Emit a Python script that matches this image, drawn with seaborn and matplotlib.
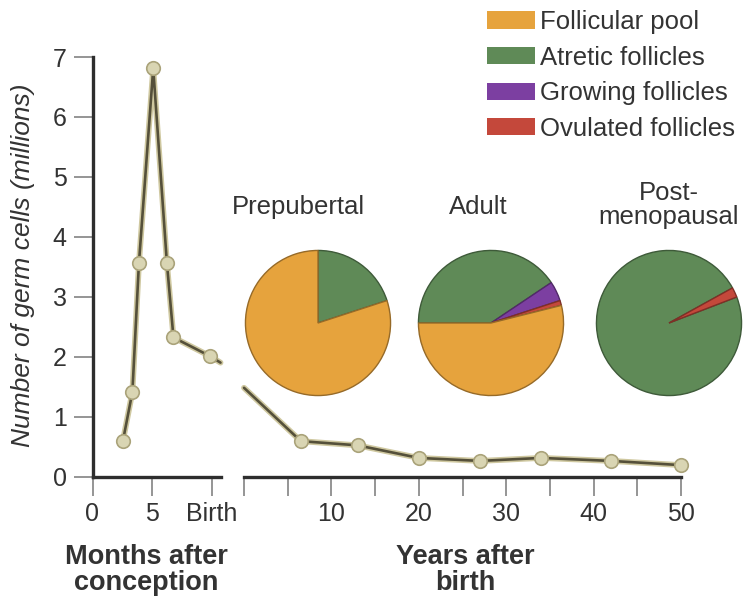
import numpy as np
import pandas as pd
import matplotlib
matplotlib.use("Agg")
import matplotlib.pyplot as plt
import matplotlib.patheffects as pe
from matplotlib.patches import Patch
from matplotlib.colors import to_rgb
import seaborn as sns

# ---------------- data ----------------
prenatal_months = [2.55, 3.35, 3.9, 5.1, 6.25, 6.8, 9.85]
prenatal_cells = [0.59, 1.41, 3.56, 6.81, 3.56, 2.32, 2.01]
# line continues past birth toward the axis break
birth_tail_month = 10.75
birth_tail_cells = 1.90

postnatal_years = [6.5, 13, 20, 27, 34, 42, 50]
postnatal_cells = [0.59, 0.52, 0.31, 0.26, 0.31, 0.26, 0.19]
# line entering the postnatal axis from the break
postnatal_start_year = 0
postnatal_start_cells = 1.48

month_ticks = [0, 5, 10]
month_labels = ["0", "5", "Birth"]
year_ticks = [0, 5, 10, 15, 20, 25, 30, 35, 40, 45, 50]
year_labels = ["", "", "10", "", "20", "", "30", "", "40", "", "50"]
y_ticks = [0, 1, 2, 3, 4, 5, 6, 7]

categories = ["Follicular pool", "Atretic follicles", "Growing follicles", "Ovulated follicles"]
stages = ["Prepubertal", "Adult", "Post-\nmenopausal"]
follicular = [80.0, 53.9, 0.0]
atretic = [20.0, 40.6, 97.8]
growing = [0.0, 4.4, 0.0]
ovulated = [0.0, 1.1, 2.2]

# ---------------- style ----------------
sns.set_theme(style="white")
plt.rcParams["font.family"] = ["Liberation Sans", "DejaVu Sans"]

W, H = 745, 599
fig = plt.figure(figsize=(W / 100, H / 100), dpi=100)
fig.patch.set_facecolor("white")

TXT = "#333333"
SPINE = "#2e2e2e"
TICK = "#8c8c8c"
LINE = "#55503a"
HALO = "#cfc8a0"
MFACE = "#d9d5b3"
MEDGE = "#aaa37a"
colors = {"Follicular pool": "#E6A33D", "Atretic follicles": "#5F8A57",
          "Growing follicles": "#7C3FA1", "Ovulated follicles": "#C4483B"}


def fx(px):
    return px / W


def fy(py):
    return 1 - py / H


y0_px, y7_px = 476.5, 57.0
bottom = fy(y0_px)
height = (y0_px - y7_px) / H

ax1 = fig.add_axes([fx(92.5), bottom, fx(220.5) - fx(92.5), height])
ax2 = fig.add_axes([fx(244), bottom, fx(681) - fx(244), height])

halo = [pe.Stroke(linewidth=4.2, foreground=HALO), pe.Normal()]

# prenatal line
pre_df = pd.DataFrame({"month": prenatal_months + [birth_tail_month],
                       "cells": prenatal_cells + [birth_tail_cells]})
sns.lineplot(data=pre_df, x="month", y="cells", ax=ax1, color=LINE, lw=1.9,
             estimator=None, sort=False, path_effects=halo, clip_on=False, zorder=3)
sns.scatterplot(x=prenatal_months, y=prenatal_cells, ax=ax1, s=95, color=MFACE,
                edgecolor=MEDGE, linewidth=1.2, zorder=4, clip_on=False)

# postnatal line
post_df = pd.DataFrame({"year": [postnatal_start_year] + postnatal_years,
                        "cells": [postnatal_start_cells] + postnatal_cells})
sns.lineplot(data=post_df, x="year", y="cells", ax=ax2, color=LINE, lw=1.9,
             estimator=None, sort=False, path_effects=halo, clip_on=False, zorder=3)
sns.scatterplot(x=postnatal_years, y=postnatal_cells, ax=ax2, s=95, color=MFACE,
                edgecolor=MEDGE, linewidth=1.2, zorder=4, clip_on=False)

for ax in (ax1, ax2):
    ax.set_ylim(0, 7)
    ax.set_xlabel("")
    ax.set_ylabel("")
    ax.set_facecolor("none")
    for s in ("top", "right"):
        ax.spines[s].set_visible(False)
    ax.spines["bottom"].set_color(SPINE)
    ax.spines["bottom"].set_linewidth(2.4)
    ax.tick_params(axis="both", direction="out", length=13.5, width=1.3,
                   color=TICK, labelsize=18, labelcolor=TXT, pad=5,
                   bottom=True, left=True)

ax1.set_xlim(0, 10.75)
ax1.spines["left"].set_color(SPINE)
ax1.spines["left"].set_linewidth(2.4)
ax1.set_xticks(month_ticks)
ax1.set_xticklabels(month_labels)
ax1.set_yticks(y_ticks)
ax1.set_yticklabels([str(v) for v in y_ticks])

ax2.set_xlim(0, 50)
ax2.spines["left"].set_visible(False)
ax2.tick_params(axis="y", left=False)
ax2.set_yticks([])
ax2.set_xticks(year_ticks)
ax2.set_xticklabels(year_labels)

# axis titles
fig.text(fx(23), fy(265), "Number of germ cells (millions)", rotation=90,
         style="italic", fontsize=19, color=TXT, ha="center", va="center")
fig.text(fx(146), fy(570), "Months after\nconception", fontsize=19.5,
         fontweight="bold", color=TXT, ha="center", va="center", linespacing=1.0)
fig.text(fx(465), fy(570), "Years after\nbirth", fontsize=19.5,
         fontweight="bold", color=TXT, ha="center", va="center", linespacing=1.0)

# pies
pie_centers = [(318, 323), (491, 323), (669, 323)]
pie_radius = 74
start_angles = [90, 180, 21]
title_pos = [(298, 207), (478, 207), (669, 205)]
order = ["Atretic follicles", "Growing follicles", "Ovulated follicles", "Follicular pool"]
shares = {"Follicular pool": follicular, "Atretic follicles": atretic,
          "Growing follicles": growing, "Ovulated follicles": ovulated}

for i, stage in enumerate(stages):
    cx, cy = pie_centers[i]
    axp = fig.add_axes([fx(cx - pie_radius), fy(cy + pie_radius),
                        2 * pie_radius / W, 2 * pie_radius / H])
    vals, cols = [], []
    for cat in order:
        v = shares[cat][i]
        if v > 0:
            vals.append(v)
            cols.append(colors[cat])
    wedges, _ = axp.pie(vals, colors=cols, startangle=start_angles[i],
                        counterclock=False, radius=1.0,
                        wedgeprops=dict(linewidth=1.0))
    for w, c in zip(wedges, cols):
        r, g, b = to_rgb(c)
        w.set_edgecolor((r * 0.65, g * 0.65, b * 0.65))
    axp.set_xlim(-1.02, 1.02)
    axp.set_ylim(-1.02, 1.02)
    axp.set_aspect("equal")
    axp.axis("off")
    tx, ty = title_pos[i]
    fig.text(fx(tx), fy(ty), stage, fontsize=18.5, color=TXT, ha="center",
             va="center", linespacing=1.05)

# legend
handles = [Patch(facecolor=colors[c], edgecolor="none", label=c) for c in categories]
fig.legend(handles=handles, loc="upper left", bbox_to_anchor=(fx(487), fy(10)),
           frameon=False, fontsize=18.5, handlelength=1.85, handleheight=0.65,
           handletextpad=0.2, labelspacing=0.45, borderpad=0, borderaxespad=0,
           labelcolor=TXT)

fig.savefig("out.png", dpi=100, facecolor="white")
